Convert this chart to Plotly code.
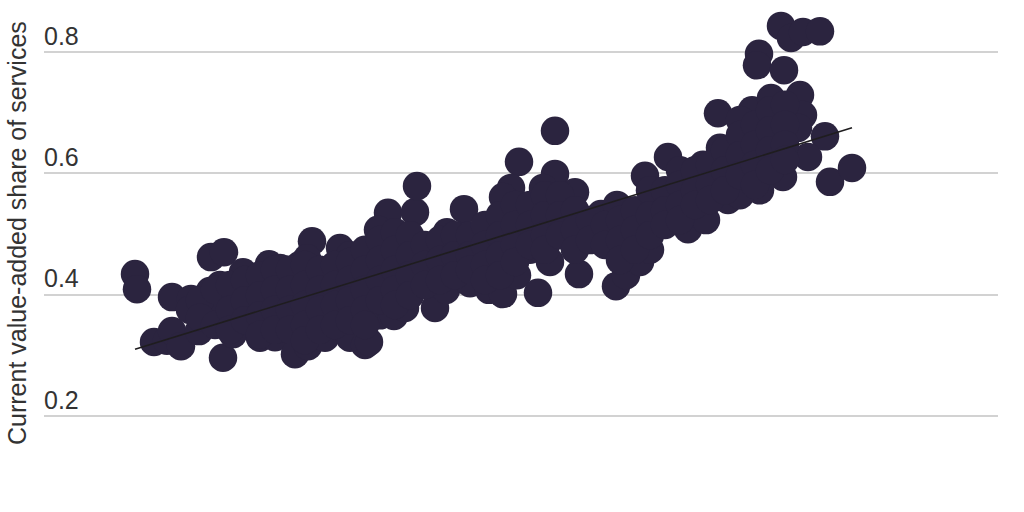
import plotly.graph_objects as go

# Left and edge points
x_edge = [1.35,1.37,1.54,1.67,1.72,1.81,1.72,1.91,1.99,2.23,2.33,2.11,2.24,2.43,1.90,2.05,2.10,2.20,2.28,2.15,2.40,2.50,2.60,2.75,2.69,2.80,3.00,3.12,3.07,2.95,3.08,3.25,3.50,3.65,3.69,3.40,3.50,3.60,3.88,3.78,4.15,4.17,3.80,3.94,4.05,4.35,4.46,4.70,4.89,5.03,5.17,5.38,5.79,6.16,6.26,6.40,6.50,4.64,4.47,5.19,5.11,5.03,5.55,5.55,5.43,5.75,5.50,5.30,6.01,6.17,6.45,6.68,6.80,6.55,6.55,6.88,7.06,7.03,7.18,7.20,7.52,7.71,7.40,8.00,8.03,7.98,8.25,8.08,7.83,8.30,8.52,7.60,7.45,7.28,7.40,7.70,7.57,7.81,7.91,8.03,8.20,7.59,7.57,7.84]
y_edge = [.434,.409,.322,.324,.340,.315,.396,.393,.340,.296,.335,.462,.470,.437,.375,.362,.406,.416,.391,.375,.391,.358,.329,.330,.450,.444,.449,.488,.460,.302,.315,.329,.329,.317,.322,.477,.465,.460,.535,.507,.536,.579,.366,.365,.378,.378,.408,.419,.408,.401,.432,.403,.434,.414,.432,.454,.474,.541,.503,.619,.576,.561,.670,.599,.576,.569,.454,.474,.533,.548,.596,.627,.605,.548,.564,.508,.523,.614,.699,.642,.704,.724,.688,.729,.696,.675,.661,.627,.594,.586,.609,.572,.589,.556,.564,.680,.655,.843,.823,.833,.834,.797,.778,.770]

# Points inside the main cloud
x_core = [2.0,2.0,2.15,2.15,2.3,2.3,2.3,2.45,2.45,2.45,2.6,2.6,2.6,2.6,2.75,2.75,2.75,2.75,2.9,2.9,2.9,2.9,3.05,3.05,3.05,3.05,3.05,3.2,3.2,3.2,3.2,3.35,3.35,3.35,3.35,3.5,3.5,3.5,3.5,3.65,3.65,3.65,3.65,3.65,3.8,3.8,3.8,3.8,3.95,3.95,3.95,3.95,3.95,4.1,4.1,4.1,4.1,4.25,4.25,4.25,4.4,4.4,4.4,4.55,4.55,4.55,4.7,4.7,4.7,4.85,4.85,4.85,4.85,5.0,5.0,5.0,5.0,5.15,5.15,5.15,5.15,5.3,5.3,5.3,5.45,5.45,5.45,5.45,5.6,5.6,5.6,5.75,5.75,5.75,5.9,5.9,6.05,6.05,6.2,6.2,6.2,6.35,6.35,6.35,6.5,6.5,6.5,6.65,6.65,6.65,6.8,6.8,6.8,6.95,6.95,6.95,7.1,7.1,7.1,7.25,7.25,7.25,7.4,7.4,7.4,7.55,7.55,7.55,7.55,7.7,7.7,7.7,7.7,7.85,7.85,7.85,7.85]
y_core = [.391,.362,.408,.350,.416,.375,.342,.424,.391,.358,.432,.399,.366,.334,.441,.408,.375,.342,.441,.408,.375,.342,.449,.416,.383,.350,.325,.441,.408,.375,.342,.449,.416,.383,.350,.454,.424,.391,.358,.474,.441,.408,.375,.350,.490,.457,.424,.391,.503,.474,.441,.408,.383,.498,.465,.432,.399,.482,.449,.416,.490,.457,.424,.498,.465,.432,.498,.465,.441,.515,.482,.449,.424,.531,.498,.465,.432,.548,.515,.482,.454,.548,.515,.482,.564,.531,.498,.474,.564,.531,.498,.539,.507,.474,.523,.490,.515,.482,.523,.490,.457,.539,.507,.474,.572,.531,.498,.572,.539,.515,.581,.548,.523,.605,.572,.548,.614,.581,.556,.638,.605,.572,.663,.630,.597,.680,.647,.614,.581,.704,.671,.638,.605,.713,.680,.647,.622]

# Fitted trend line
x_trend = [1.35, 8.52]
y_trend = [.310, .675]

y_ticks = [0.2, 0.4, 0.6, 0.8]
y_tick_labels = ["0.2", "0.4", "0.6", "0.8"]
y_title = "Current value-added share of services"

fig = go.Figure()
fig.add_trace(go.Scatter(
    x=x_edge + x_core, y=y_edge + y_core, mode="markers",
    marker=dict(size=28.5, color="#2b243f", line=dict(width=0)),
    cliponaxis=False, showlegend=False,
))
fig.add_trace(go.Scatter(
    x=x_trend, y=y_trend, mode="lines",
    line=dict(color="#1f1d1f", width=1.6),
    showlegend=False,
))
fig.update_layout(
    width=1024, height=512,
    margin=dict(l=44, r=26, t=0, b=0),
    paper_bgcolor="white", plot_bgcolor="white",
    font=dict(family="Liberation Sans", color="#333333"),
    xaxis=dict(range=[0.44, 9.98], showgrid=False, zeroline=False,
               showticklabels=False, ticks="", showline=False),
    yaxis=dict(range=[0.0418, 0.8857], tickvals=y_ticks, ticktext=y_tick_labels,
               showgrid=True, gridcolor="#d2d2d2", gridwidth=2, zeroline=False,
               showline=False, ticks="", ticklabelposition="inside",
               ticklabelshift=-16, ticklabelstandoff=-3,
               tickfont=dict(size=25, color="#333333")),
    annotations=[dict(
        text=y_title, xref="paper", yref="paper", x=-0.0283, y=0.5449,
        xanchor="center", yanchor="middle", textangle=-90, showarrow=False,
        borderpad=0,
        font=dict(size=25, color="#333333"),
    )],
)
fig.write_html("out.html", config={"displayModeBar": False},
               post_script="document.body.style.margin='0';")
